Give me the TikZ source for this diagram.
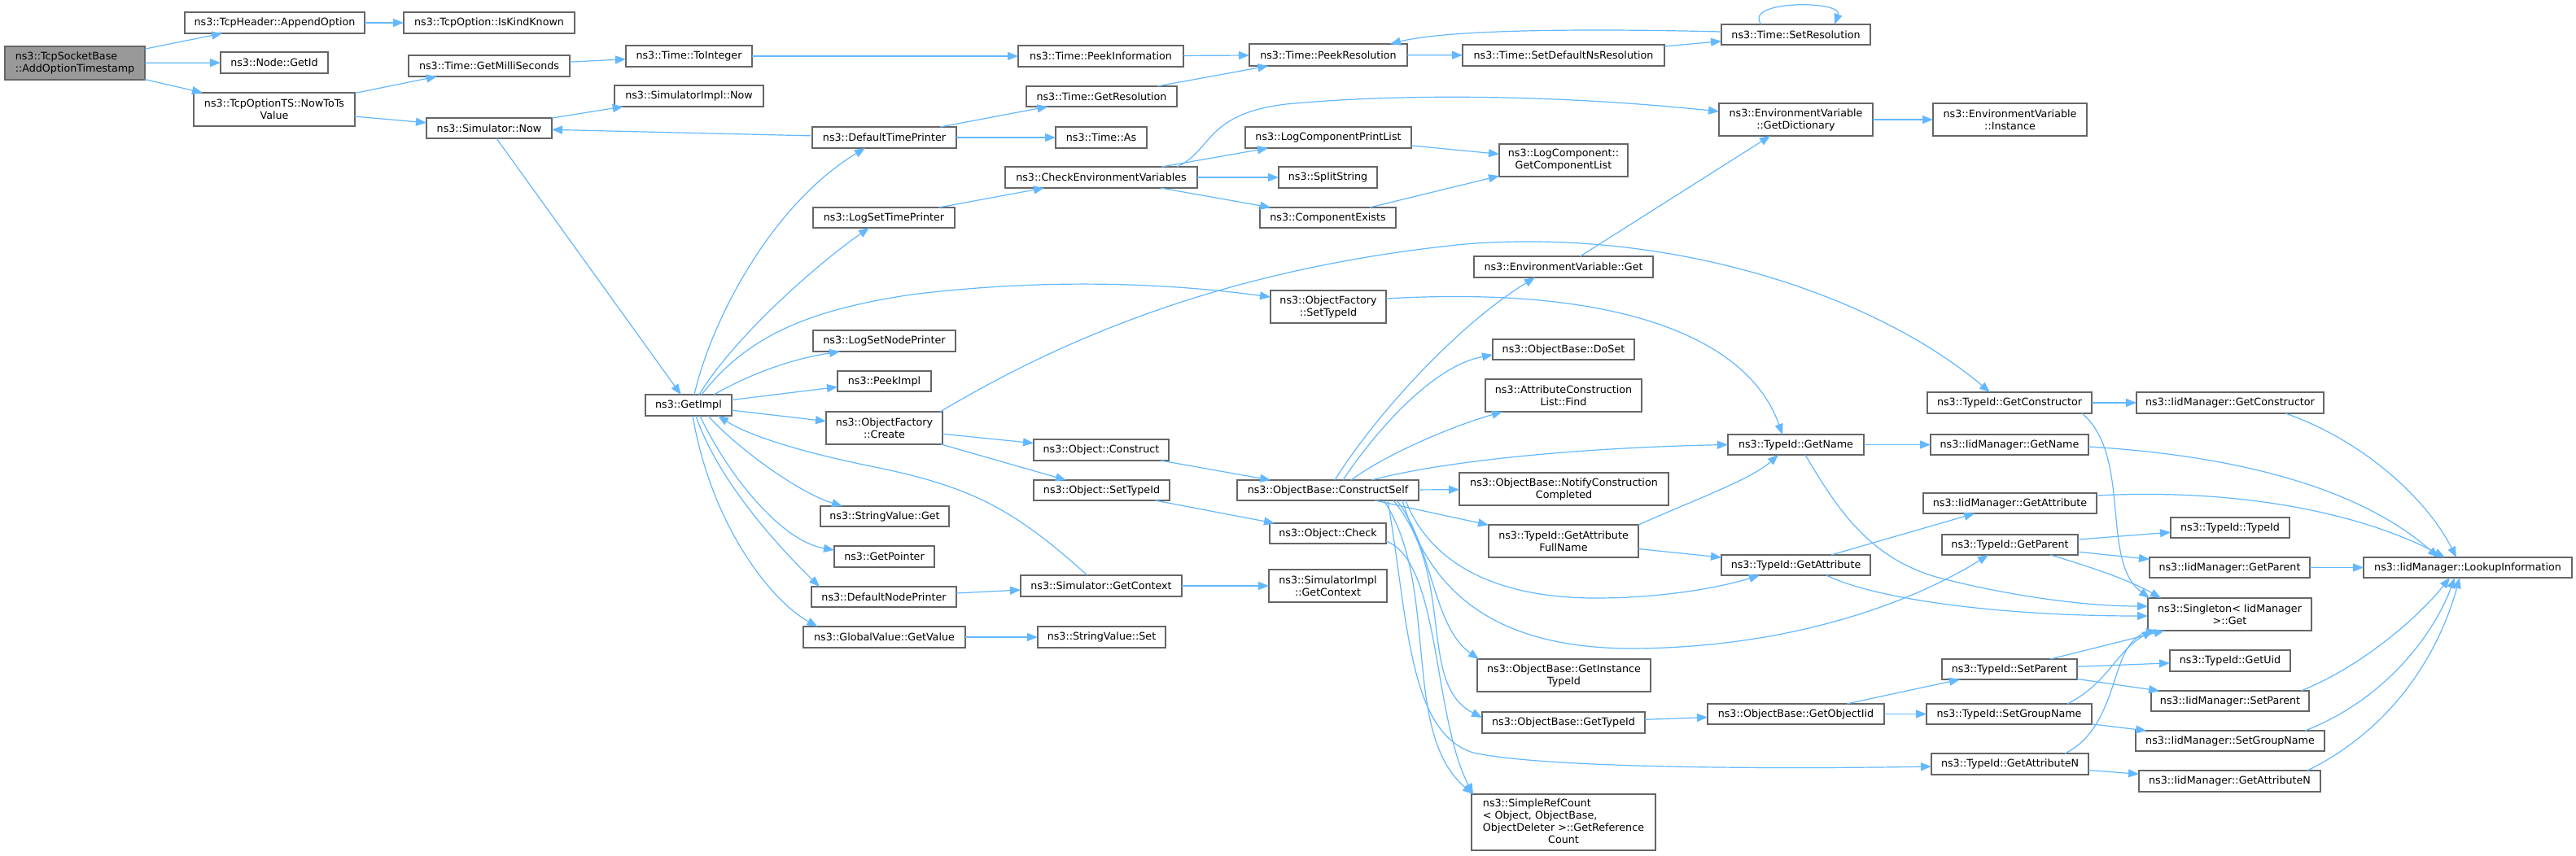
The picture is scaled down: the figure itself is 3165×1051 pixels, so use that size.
\documentclass[tikz,border=0pt]{standalone}
\usepackage{fontspec}
\setmainfont{DejaVu Sans}
\usetikzlibrary{arrows.meta,calc}
\definecolor{edgec}{HTML}{63B8FF}
\definecolor{bordc}{HTML}{666666}
\definecolor{rootc}{HTML}{999999}
\tikzset{
 box/.style={draw=bordc, line width=1.4bp, fill=white, inner sep=0pt, outer sep=0pt, align=center, font=\fontsize{12.7bp}{15bp}\selectfont},
 calledge/.style={draw=edgec, line width=1.2bp, -{Triangle[length=13bp,width=10bp]}},
}
\newcommand\bx[7][]{\node[box,minimum width={(#5-#3)*1bp},minimum height={(#6-#4)*1bp},#1] (#2) at ({(#3+#5)/2},{(#4+#6)/2}) {#7};}
\begin{document}
\begin{tikzpicture}[x=1bp,y=-1bp]
\fill[white] (0,0) rectangle (3165,1051);
\useasboundingbox (0,0) rectangle (3165,1051);
% nodes
\bx[fill=rootc,align=left]{root}{6}{57}{178}{98}{ns3::TcpSocketBase\\::AddOptionTimestamp}
\bx{append}{227}{15}{448}{41}{ns3::TcpHeader::AppendOption}
\bx{iskind}{496}{15}{706}{41}{ns3::TcpOption::IsKindKnown}
\bx{getid}{271}{64}{403}{90}{ns3::Node::GetId}
\bx{nowtots}{238}{114}{436}{155}{ns3::TcpOptionTS::NowToTs\\Value}
\bx{getms}{502}{68}{700}{94}{ns3::Time::GetMilliSeconds}
\bx{simnow}{524}{145}{678}{170}{ns3::Simulator::Now}
\bx{toint}{769}{56}{924}{82}{ns3::Time::ToInteger}
\bx{simimplnow}{755}{105}{938}{131}{ns3::SimulatorImpl::Now}
\bx{getimpl}{793}{485}{899}{511}{ns3::GetImpl}
\bx{peekinfo}{1251}{56}{1454}{82}{ns3::Time::PeekInformation}
\bx{getres}{1261}{106}{1446}{131}{ns3::Time::GetResolution}
\bx{dtp}{998}{156}{1175}{182}{ns3::DefaultTimePrinter}
\bx{timeas}{1297}{156}{1409}{182}{ns3::Time::As}
\bx{cev}{1235}{205}{1471}{231}{ns3::CheckEnvironmentVariables}
\bx{lstp}{999}{255}{1173}{280}{ns3::LogSetTimePrinter}
\bx{lsnp}{999}{406}{1174}{432}{ns3::LogSetNodePrinter}
\bx{peekimpl}{1029}{456}{1144}{481}{ns3::PeekImpl}
\bx{ofcreate}{1015}{506}{1158}{546}{ns3::ObjectFactory\\::Create}
\bx{peekres}{1535}{54}{1729}{81}{ns3::Time::PeekResolution}
\bx{lcpl}{1530}{156}{1734}{182}{ns3::LogComponentPrintList}
\bx{split}{1571}{205}{1692}{231}{ns3::SplitString}
\bx{compex}{1548}{255}{1715}{280}{ns3::ComponentExists}
\bx{ofsettid}{1561}{357}{1703}{397}{ns3::ObjectFactory\\::SetTypeId}
\bx{setres}{2115}{30}{2298}{55}{ns3::Time::SetResolution}
\bx{setdef}{1797}{55}{2045}{81}{ns3::Time::SetDefaultNsResolution}
\bx{getdict}{2112}{127}{2301}{167}{ns3::EnvironmentVariable\\::GetDictionary}
\bx{getcomplist}{1842}{177}{2000}{217}{ns3::LogComponent::\\GetComponentList}
\bx{envget}{1811}{315}{2031}{341}{ns3::EnvironmentVariable::Get}
\bx{doset}{1834}{417}{2008}{442}{ns3::ObjectBase::DoSet}
\bx{acfind}{1825}{466}{2017}{506}{ns3::AttributeConstruction\\List::Find}
\bx{objconstruct}{1270}{540}{1436}{566}{ns3::Object::Construct}
\bx{objsettid}{1270}{590}{1437}{615}{ns3::Object::SetTypeId}
\bx{svget}{1008}{622}{1166}{647}{ns3::StringValue::Get}
\bx{getptr}{1025}{671}{1148}{697}{ns3::GetPointer}
\bx{dnp}{997}{721}{1175}{746}{ns3::DefaultNodePrinter}
\bx{simgetctx}{1254}{707}{1452}{733}{ns3::Simulator::GetContext}
\bx{gvget}{987}{770}{1186}{796}{ns3::GlobalValue::GetValue}
\bx{svset}{1275}{770}{1432}{796}{ns3::StringValue::Set}
\bx{cself}{1520}{590}{1743}{615}{ns3::ObjectBase::ConstructSelf}
\bx{objcheck}{1560}{643}{1703}{668}{ns3::Object::Check}
\bx{simimplctx}{1559}{700}{1704}{740}{ns3::SimulatorImpl\\::GetContext}
\bx{tidgetname}{2123}{534}{2290}{559}{ns3::TypeId::GetName}
\bx{notify}{1793}{581}{2050}{621}{ns3::ObjectBase::NotifyConstruction\\Completed}
\bx{gafull}{1829}{645}{2013}{685}{ns3::TypeId::GetAttribute\\FullName}
\bx{tidgetattr}{2115}{682}{2298}{707}{ns3::TypeId::GetAttribute}
\bx{getinst}{1815}{810}{2028}{850}{ns3::ObjectBase::GetInstance\\TypeId}
\bx{obgettid}{1821}{875}{2021}{901}{ns3::ObjectBase::GetTypeId}
\bx{getobjiid}{2098}{865}{2315}{890}{ns3::ObjectBase::GetObjectIid}
\bx{simpleref}{1808}{976}{2034}{1045}{\begin{tabular}{@{}l@{}}ns3::SimpleRefCount\\< Object, ObjectBase,\\\multicolumn{1}{@{}c@{}}{ObjectDeleter >::GetReference}\\\multicolumn{1}{@{}c@{}}{Count}\end{tabular}}
\bx{envinst}{2375}{127}{2564}{167}{ns3::EnvironmentVariable\\::Instance}
\bx{tidgetctor}{2368}{482}{2570}{508}{ns3::TypeId::GetConstructor}
\bx{iidgetctor}{2625}{482}{2855}{508}{ns3::IidManager::GetConstructor}
\bx{iidgetname}{2372}{534}{2566}{559}{ns3::IidManager::GetName}
\bx{iidgetattr}{2363}{606}{2576}{631}{ns3::IidManager::GetAttribute}
\bx{tidtid}{2667}{636}{2813}{661}{ns3::TypeId::TypeId}
\bx{tidgetparent}{2386}{657}{2553}{682}{ns3::TypeId::GetParent}
\bx{iidgetparent}{2641}{685}{2838}{710}{ns3::IidManager::GetParent}
\bx{lookup}{2904}{685}{3160}{710}{ns3::IidManager::LookupInformation}
\bx{singleton}{2639}{735}{2840}{775}{ns3::Singleton< IidManager\\>::Get}
\bx{getuid}{2666}{799}{2814}{825}{ns3::TypeId::GetUid}
\bx{tidsetparent}{2386}{810}{2552}{835}{ns3::TypeId::SetParent}
\bx{iidsetparent}{2643}{849}{2837}{874}{ns3::IidManager::SetParent}
\bx{tidsetgroup}{2367}{865}{2570}{890}{ns3::TypeId::SetGroupName}
\bx{iidsetgroup}{2624}{898}{2856}{923}{ns3::IidManager::SetGroupName}
\bx{tidgetattrn}{2373}{926}{2566}{952}{ns3::TypeId::GetAttributeN}
\bx{iidgetattrn}{2628}{947}{2851}{973}{ns3::IidManager::GetAttributeN}
% straight edges
\foreach \a/\b in {root/append,root/getid,root/nowtots,append/iskind,nowtots/getms,nowtots/simnow,getms/toint,simnow/simimplnow,dtp/simnow,simnow/getimpl,toint/peekinfo,peekinfo/peekres,getres/peekres,dtp/getres,dtp/timeas,lstp/cev,cev/lcpl,cev/split,cev/compex,lcpl/getcomplist,compex/getcomplist,getdict/envinst,envget/getdict,setdef/setres,peekres/setdef,getimpl/peekimpl,getimpl/ofcreate,ofcreate/objconstruct,ofcreate/objsettid,objconstruct/cself,objsettid/objcheck,dnp/simgetctx,simgetctx/simimplctx,gvget/svset,cself/notify,cself/gafull,tidgetname/iidgetname,tidgetattr/iidgetattr,gafull/tidgetattr,obgettid/getobjiid,getobjiid/tidsetgroup,tidgetctor/iidgetctor,tidgetparent/tidtid,tidgetparent/iidgetparent,iidgetparent/lookup,tidsetparent/singleton,tidsetparent/getuid,tidsetparent/iidsetparent,tidsetgroup/iidsetgroup,tidgetattrn/iidgetattrn}
  \draw[calledge] (\a) -- (\b);
% curved edges
\draw[calledge] ($(cev.north)+(93,0)$) .. controls (1490,185) and (1480,140) .. (1580,128) .. controls (1750,112) and (1950,120) .. ($(getdict.west)+(0,-10)$);
\draw[calledge] ($(setres.west)+(0,-3.5)$) .. controls (1950,35) and (1780,36) .. ($(peekres.north)+(76,0)$);
\draw[calledge] ($(setres.north)+(-42.5,0)$) .. controls (2140,0) and (2265,0) .. ($(setres.north)+(47.5,0)$);
\draw[calledge] ($(getimpl.north)+(7,0)$) .. controls (875,390) and (950,250) .. ($(dtp.south)+(-23.5,0)$);
\draw[calledge] ($(getimpl.north)+(13,0)$) .. controls (905,410) and (1010,320) .. ($(lstp.south)+(-18,0)$);
\draw[calledge] ($(getimpl.north)+(16,0)$) .. controls (920,410) and (1000,380) .. (1120,362) .. controls (1300,340) and (1450,350) .. ($(ofsettid.west)+(0,-12)$);
\draw[calledge] ($(getimpl.north)+(31,0)$) .. controls (930,455) and (980,440) .. ($(lsnp.south)+(-54.5,0)$);
\draw[calledge] ($(getimpl.south)+(24,0)$) .. controls (905,550) and (980,605) .. ($(svget.north)+(-52,0)$);
\draw[calledge] ($(getimpl.south)+(14,0)$) .. controls (895,585) and (960,665) .. ($(getptr.west)+(0,-8)$);
\draw[calledge] ($(getimpl.south)+(9,0)$) .. controls (885,600) and (975,690) .. ($(dnp.north)+(-79,0)$);
\draw[calledge] ($(getimpl.south)+(5,0)$) .. controls (875,650) and (950,740) .. ($(gvget.north)+(-82,0)$);
\draw[calledge] ($(simgetctx.north)+(-17,0)$) .. controls (1250,630) and (1200,600) .. (1080,575) .. controls (980,555) and (920,535) .. ($(getimpl.south)+(36,0)$);
\draw[calledge] ($(ofcreate.north)+(68.5,0)$) .. controls (1300,420) and (1500,330) .. (1800,300) .. controls (2050,280) and (2300,360) .. ($(tidgetctor.north)+(-24,0)$);
\draw[calledge] ($(ofsettid.east)+(0,-10)$) .. controls (2000,350) and (2150,420) .. ($(tidgetname.north)+(-16.5,0)$);
\draw[calledge] ($(cself.north)+(8.5,0)$) .. controls (1690,510) and (1790,400) .. ($(envget.south)+(-35,0)$);
\draw[calledge] ($(cself.north)+(18.5,0)$) .. controls (1690,530) and (1760,450) .. ($(doset.west)+(0,6.5)$);
\draw[calledge] ($(cself.north)+(28.5,0)$) .. controls (1700,560) and (1780,525) .. ($(acfind.south)+(-75,0)$);
\draw[calledge] ($(cself.north)+(53.5,0)$) .. controls (1780,565) and (1950,550) .. (tidgetname.west);
\draw[calledge] ($(cself.south)+(95.5,0)$) .. controls (1760,700) and (1850,735) .. (1960,735) .. controls (2050,735) and (2120,720) .. ($(tidgetattr.south)+(-44.5,0)$);
\draw[calledge] ($(cself.south)+(91.5,0)$) .. controls (1760,740) and (1850,795) .. (2000,797) .. controls (2200,797) and (2350,740) .. ($(tidgetparent.south)+(-26.5,0)$);
\draw[calledge] ($(cself.south)+(84.5,0)$) .. controls (1760,670) and (1760,770) .. ($(getinst.north west)+(2,0)$);
\draw[calledge] ($(cself.south)+(80.5,0)$) .. controls (1790,710) and (1740,840) .. ($(obgettid.west)+(0,-6)$);
\draw[calledge] ($(cself.south)+(73.5,0)$) .. controls (1730,760) and (1730,900) .. (1810,925) .. controls (1900,945) and (2200,945) .. ($(tidgetattrn.west)+(0,3)$);
\draw[calledge] ($(cself.south)+(68.5,0)$) .. controls (1770,720) and (1720,900) .. ($(simpleref.north west)+(2,0)$);
\draw[calledge] ($(objcheck.east)+(0,9.5)$) .. controls (1770,690) and (1760,880) .. ($(simpleref.north west)+(2,0)$);
\draw[calledge] ($(tidgetname.south)+(11.5,0)$) .. controls (2260,630) and (2300,690) .. (2390,712) .. controls (2470,732) and (2560,745) .. ($(singleton.west)+(0,-10)$);
\draw[calledge] ($(tidgetattr.south)+(37.5,0)$) .. controls (2300,735) and (2450,757) .. ($(singleton.west)+(0,2)$);
\draw[calledge] (gafull.north east) .. controls (2080,615) and (2150,590) .. ($(tidgetname.south)+(-21.5,0)$);
\draw[calledge] ($(getobjiid.north)+(62.5,0)$) -- ($(tidsetparent.south)+(-61,0)$);
\draw[calledge] ($(tidgetctor.south)+(89,0)$) .. controls (2620,560) and (2580,690) .. ($(singleton.north west)+(2,0)$);
\draw[calledge] ($(iidgetctor.south)+(68,0)$) .. controls (2900,540) and (2980,610) .. ($(lookup.north)+(-14,0)$);
\draw[calledge] ($(iidgetname.east)+(0,2.5)$) .. controls (2750,560) and (2900,600) .. ($(lookup.north)+(-36,0)$);
\draw[calledge] ($(iidgetattr.east)+(0,-9.5)$) .. controls (2750,600) and (2900,630) .. ($(lookup.north)+(-28,0)$);
\draw[calledge] ($(tidgetparent.south)+(49.5,0)$) .. controls (2580,700) and (2620,715) .. ($(singleton.north)+(-84.5,0)$);
\draw[calledge] ($(tidsetgroup.north)+(71.5,0)$) .. controls (2590,840) and (2600,800) .. ($(singleton.south)+(-94.5,0)$);
\draw[calledge] ($(tidgetattrn.north)+(67.5,0)$) .. controls (2590,900) and (2595,830) .. (2612,800) .. controls (2620,785) and (2632,778) .. ($(singleton.south)+(-89.5,0)$);
\draw[calledge] ($(iidsetparent.north)+(87,0)$) .. controls (2900,820) and (2970,760) .. ($(lookup.south)+(-22,0)$);
\draw[calledge] ($(iidsetgroup.north)+(92,0)$) .. controls (2930,860) and (2990,780) .. ($(lookup.south)+(-16,0)$);
\draw[calledge] ($(iidgetattrn.north)+(95.5,0)$) .. controls (2950,890) and (3000,790) .. ($(lookup.south)+(-10,0)$);
\end{tikzpicture}
\end{document}
